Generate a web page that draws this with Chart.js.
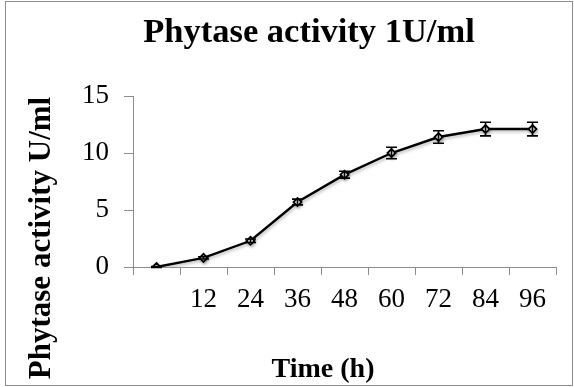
<!DOCTYPE html>
<html>
<head>
<meta charset="utf-8">
<script src="https://cdn.jsdelivr.net/npm/chart.js@4"></script>
<style>
  html, body { margin: 0; padding: 0; background: #fff; }
  #wrap { position: relative; width: 574px; height: 387px; }
  #frame { position: absolute; left: 5px; top: 1px; width: 566px; height: 383px; border: 1px solid #8c8c8c; pointer-events: none; }
</style>
</head>
<body>
<div id="wrap">
  <canvas id="mycanvas" width="574" height="387"></canvas>
  <div id="frame"></div>
</div>
<script>
// time points (h), activity (U/ml) and the +/- error
var hours = [0, 12, 24, 36, 48, 60, 72, 84, 96];
var activity = [0, 0.8, 2.3, 5.7, 8.1, 10.0, 11.4, 12.1, 12.1];
var errors = [0.05, 0.1, 0.15, 0.25, 0.3, 0.5, 0.55, 0.6, 0.6];
var yTicks = [0, 5, 10, 15];
var chartTitle = 'Phytase activity 1U/ml';
var xTitle = 'Time (h)';
var yTitle = 'Phytase activity U/ml';

var serif = "'Liberation Serif', 'Times New Roman', serif";

// draws error bars with caps from the errors array
var errorBars = {
	id: 'errorBars',
	afterDatasetsDraw: function(chart) {
		var ctx = chart.ctx;
		var meta = chart.getDatasetMeta(0);
		var y = chart.scales.y;
		ctx.save();
		ctx.strokeStyle = '#000';
		ctx.lineWidth = 1.6;
		for (var i = 0; i < meta.data.length; i++) {
			var px = meta.data[i].x;
			var top = y.getPixelForValue(activity[i] + errors[i]);
			var bot = y.getPixelForValue(activity[i] - errors[i]);
			ctx.beginPath();
			ctx.moveTo(px, top); ctx.lineTo(px, bot);
			ctx.moveTo(px - 5.5, top); ctx.lineTo(px + 5.5, top);
			ctx.moveTo(px - 5.5, bot); ctx.lineTo(px + 5.5, bot);
			ctx.stroke();
		}
		ctx.restore();
	}
};

var shadow = {
	id: 'shadow',
	beforeDatasetsDraw: function(chart) {
		chart.ctx.save();
		chart.ctx.shadowColor = 'rgba(0,0,0,0.25)';
		chart.ctx.shadowBlur = 3;
		chart.ctx.shadowOffsetX = 1;
		chart.ctx.shadowOffsetY = 2;
	},
	afterDatasetsDraw: function(chart) {
		chart.ctx.restore();
	}
};

// titles sit off-centre in the original, so draw them here
var titles = {
	id: 'titles',
	afterDraw: function(chart) {
		var ctx = chart.ctx;
		ctx.save();
		ctx.fillStyle = '#000';
		ctx.textAlign = 'center';
		ctx.textBaseline = 'alphabetic';
		ctx.font = 'bold 34.5px ' + serif;
		ctx.fillText(chartTitle, 309, 42);
		ctx.font = 'bold 28px ' + serif;
		ctx.fillText(xTitle, 323, 377);
		ctx.font = 'bold 31px ' + serif;
		ctx.translate(50, 238);
		ctx.rotate(-Math.PI / 2);
		ctx.fillText(yTitle, 0, 0);
		ctx.restore();
	}
};

var ctx = document.getElementById('mycanvas');

var lineGraph = new Chart(ctx, {
	type: 'line',
	data: {
		labels: hours,
		datasets: [{
			label: 'Phytase activity',
			data: activity,
			borderColor: '#000',
			borderWidth: 2.4,
			backgroundColor: '#fff',
			pointStyle: 'rectRot',
			pointRadius: 4,
			pointBorderWidth: 1.8,
			pointBorderColor: '#000',
			pointBackgroundColor: '#fff',
			tension: 0,
			fill: false
		}]
	},
	options: {
		responsive: false,
		animation: false,
		layout: { padding: { left: 12, right: 18, top: 96, bottom: 0 } },
		plugins: {
			legend: { display: false },
			tooltip: { enabled: false },
			title: { display: false }
		},
		scales: {
			x: {
				type: 'category',
				offset: true,
				grid: { offset: true, drawOnChartArea: false, tickLength: 8, color: '#8c8c8c' },
				border: { color: '#8c8c8c' },
				ticks: {
					color: '#000',
					font: { family: serif, size: 27 },
					padding: 9,
					maxRotation: 0,
					autoSkip: false,
					callback: function(v, i) { return hours[i] === 0 ? '' : String(hours[i]); }
				},
				afterFit: function(scale) { scale.height = 120; }
			},
			y: {
				min: 0,
				max: 15,
				grid: { drawOnChartArea: false, tickLength: 9, color: '#8c8c8c' },
				border: { color: '#8c8c8c' },
				afterBuildTicks: function(scale) {
					scale.ticks = yTicks.map(function(v) { return { value: v }; });
				},
				ticks: {
					color: '#000',
					font: { family: serif, size: 27 },
					padding: 15
				},
				afterFit: function(scale) { scale.width = 121; }
			}
		}
	},
	plugins: [shadow, errorBars, titles]
});
</script>
</body>
</html>
